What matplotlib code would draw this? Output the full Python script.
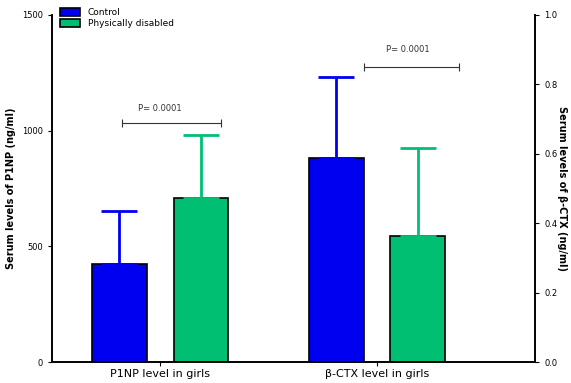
import matplotlib.pyplot as plt
import numpy as np

groups = ['P1NP level in girls', 'β-CTX level in girls']
control = [424, 0.588]
control_err = [229, 0.233]
disabled = [709, 0.363]
disabled_err = [272, 0.254]
p_text = 'P= 0.0001'

blue = '#0000f0'
green = '#00bf73'

fig = plt.figure(figsize=(5.71, 3.83), dpi=100)
ax = fig.add_axes([52 / 571, 21 / 383, 483 / 571, 347 / 383])
ax2 = ax.twinx()

x = np.arange(len(groups))
w = 0.25
off = 0.187

# left group on ng/ml axis, right group on the second axis
ax.bar(x[0] - off, control[0], w, color=blue, edgecolor='black', linewidth=1.2, label='Control')
ax.bar(x[0] + off, disabled[0], w, color=green, edgecolor='black', linewidth=1.2, label='Physically disabled')
ax.errorbar(x[0] - off, control[0], yerr=[[0], [control_err[0]]], color=blue, capsize=13, elinewidth=2, capthick=2, fmt='none')
ax.errorbar(x[0] + off, disabled[0], yerr=[[0], [disabled_err[0]]], color=green, capsize=13, elinewidth=2, capthick=2, fmt='none')

ax2.bar(x[1] - off, control[1], w, color=blue, edgecolor='black', linewidth=1.2)
ax2.bar(x[1] + off, disabled[1], w, color=green, edgecolor='black', linewidth=1.2)
ax2.errorbar(x[1] - off, control[1], yerr=[[0], [control_err[1]]], color=blue, capsize=13, elinewidth=2, capthick=2, fmt='none')
ax2.errorbar(x[1] + off, disabled[1], yerr=[[0], [disabled_err[1]]], color=green, capsize=13, elinewidth=2, capthick=2, fmt='none')

# significance brackets
ax.errorbar([(x[0] - 0.175 + x[0] + 0.28) / 2], [1035], xerr=[0.2275], color='#333333', capsize=3, elinewidth=0.8, capthick=0.8, fmt='none')
ax.text(x[0], 1095, p_text, ha='center', va='center', fontsize=6, color='#333333')
ax2.errorbar([(x[1] - 0.06 + x[1] + 0.38) / 2], [0.851], xerr=[0.22], color='#333333', capsize=3, elinewidth=0.8, capthick=0.8, fmt='none')
ax2.text(x[1] + 0.14, 0.902, p_text, ha='center', va='center', fontsize=6, color='#333333')

ax.set_xlim(-0.498, 1.728)
ax.set_ylim(0, 1500)
ax2.set_ylim(0, 1.0)
ax.set_yticks([0, 500, 1000, 1500])
ax2.set_yticks([0, 0.2, 0.4, 0.6, 0.8, 1.0])
ax2.set_yticklabels(['0.0', '0.2', '0.4', '0.6', '0.8', '1.0'])
ax.set_xticks(x)
ax.set_xticklabels(groups, fontsize=8)
ax.tick_params(axis='y', labelsize=6, length=3)
ax2.tick_params(axis='y', labelsize=6, length=3)
ax.tick_params(axis='x', length=3, pad=2)

for a in (ax, ax2):
    a.spines['top'].set_visible(False)
    for s in ('left', 'right', 'bottom'):
        a.spines[s].set_linewidth(1.2)

ax.set_ylabel('Serum levels of P1NP (ng/ml)', fontsize=7, fontweight='bold')
ax2.set_ylabel('Serum levels of β-CTX (ng/ml)', fontsize=7, fontweight='bold', rotation=270, labelpad=7)

ax.legend(loc='upper left', bbox_to_anchor=(0.01, 1.03), fontsize=6.5, frameon=False,
          handlelength=2.2, handleheight=1.0, borderaxespad=0, labelspacing=0.2)

fig.savefig('out.png', dpi=100)
